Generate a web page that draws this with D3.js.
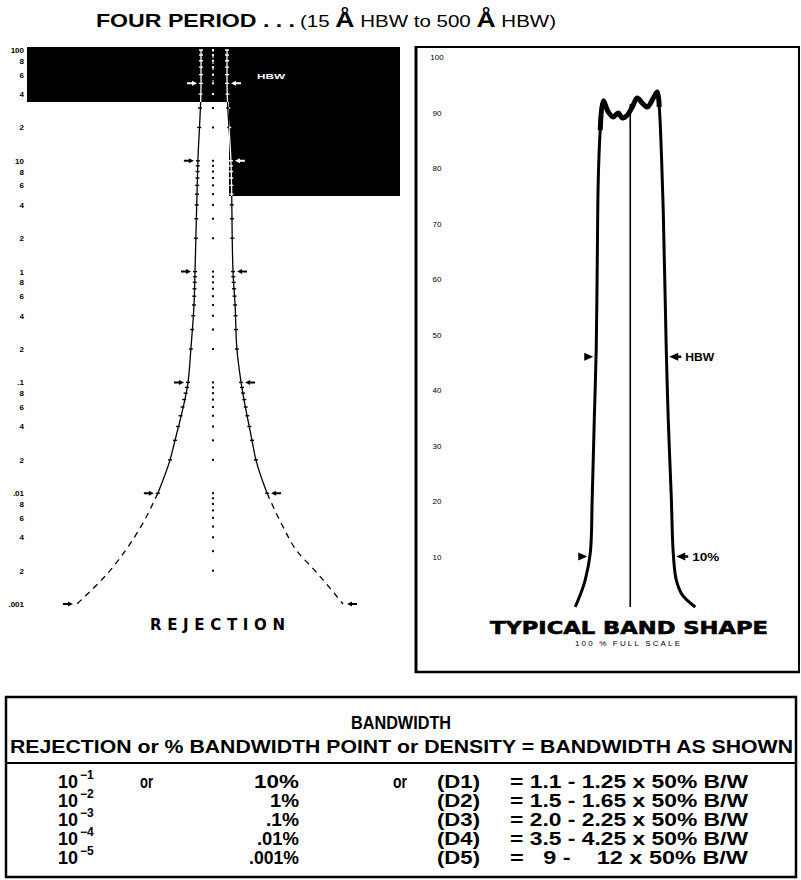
<!DOCTYPE html>
<html><head><meta charset="utf-8">
<script src="https://cdn.jsdelivr.net/npm/d3@7"></script>
<style>body{margin:0;background:#fff}svg{display:block}</style>
</head><body><svg id="c" width="801" height="880"></svg>
<script>
// ---------------- DATA ----------------
// Left panel: rejection (log, %) vs bandwidth in units of the 50% full bandwidth
const rejectionDecades = [100, 10, 1, 0.1, 0.01, 0.001];
const rejectionDecadeLabels = ["100", "10", "1", ".1", ".01", ".001"];
const minorLabelDigits = [8, 6, 4, 2];
const rejLevels = [100, 50, 10, 1, 0.5, 0.2, 0.1, 0.03, 0.02, 0.01, 0.005, 0.003, 0.002, 0.001];
const rejLeftEdge = [-0.46, -0.46, -0.58, -0.69, -0.73, -0.85, -0.96, -1.46, -1.65, -2.12, -2.77, -3.38, -3.96, -5.23];
const rejRightEdge = [0.54, 0.54, 0.69, 0.77, 0.85, 0.92, 1.08, 1.50, 1.65, 2.08, 2.69, 3.23, 3.92, 5.00];
const rejArrowLevels = [50, 10, 1, 0.1, 0.01, 0.001];

// Right panel: typical band shape, transmission % vs wavelength in HBW units
const bandTicks = [10, 20, 30, 40, 50, 60, 70, 80, 90, 100];
const bandTickLabels = ["10", "20", "30", "40", "50", "60", "70", "80", "90", "100"];
const bandX = [-0.786,-0.714,-0.643,-0.571,-0.543,-0.514,-0.486,-0.471,-0.457,-0.429,-0.386,-0.314,-0.243,-0.171,-0.114,-0.043,0.029,0.100,0.171,0.243,0.329,0.386,0.414,0.443,0.471,0.514,0.543,0.586,0.614,0.657,0.743,0.929];
const bandY = [0.9,3.1,5.8,10.6,20.7,34.6,47.4,63.4,77.8,86.8,92.1,90.1,89.2,89.9,89.0,89.5,91.0,92.6,91.7,91.0,92.6,93.7,91.0,83.2,72.4,47.4,34.6,20.7,10.6,5.8,3.1,0.9];
const bandCenterLine = [0.9, 91.5];
const bandArrowLevels = [46, 10];
const bandArrowLeft = [-0.486, -0.571];
const bandArrowRight = [0.514, 0.614];
const bandArrowLabels = ["HBW", "10%"];

// Table
const tableExponents = ["-1", "-2", "-3", "-4", "-5"];
const tablePercents = ["10%", "1%", ".1%", ".01%", ".001%"];
const tableDensities = ["(D1)", "(D2)", "(D3)", "(D4)", "(D5)"];
const tableRatios = ["1.1 - 1.25", "1.5 - 1.65", "2.0 - 2.25", "3.5 - 4.25", "  9 -    12"];
const tableOr1 = ["or", "", "", "", ""];
const tableOr2 = ["or", "", "", "", ""];

// ---------------- DRAW ----------------
const svg = d3.select("#c");
const SANS = "'Liberation Sans', Arial, Helvetica, sans-serif";
const WIDE = "'DejaVu Sans', Verdana, sans-serif";

// Title
svg.append("text").attr("x", 96).attr("y", 27).attr("font-family", SANS)
  .attr("font-weight", "bold").attr("font-size", 18)
  .attr("textLength", 199).attr("lengthAdjust", "spacingAndGlyphs")
  .text("FOUR PERIOD . . .");
const t2 = svg.append("text").attr("x", 300).attr("y", 27).attr("font-family", SANS)
  .attr("font-size", 17).attr("textLength", 256).attr("lengthAdjust", "spacingAndGlyphs");
t2.append("tspan").text("(15 ");
t2.append("tspan").attr("font-size", 22).attr("font-weight", "bold").text("Å");
t2.append("tspan").text(" HBW to 500 ");
t2.append("tspan").attr("font-size", 22).attr("font-weight", "bold").text("Å");
t2.append("tspan").text(" HBW)");

// ---------- Left panel: REJECTION ----------
const xL = d3.scaleLinear().domain([-7.15, 7.19]).range([27, 400]);
const yL = d3.scaleLog().domain([0.001, 100]).range([604, 50]);
const left = svg.append("g");

// dark scan regions
const dark = [[27, 47, 373, 55], [229, 47, 171, 149]];
left.selectAll("rect.dark").data(dark).join("rect").attr("class", "dark")
  .attr("x", d => d[0]).attr("y", d => d[1]).attr("width", d => d[2]).attr("height", d => d[3])
  .attr("fill", "#000");
const defs = svg.append("defs");
const cp = defs.append("clipPath").attr("id", "darkclip");
cp.selectAll("rect").data(dark).join("rect")
  .attr("x", d => d[0]).attr("y", d => d[1]).attr("width", d => d[2]).attr("height", d => d[3]);

// axis labels
const labG = left.append("g").attr("font-family", SANS).attr("font-weight", "bold")
  .attr("font-size", 8).attr("text-anchor", "end");
rejectionDecades.forEach((d, i) => {
  labG.append("text").attr("x", 24).attr("y", yL(d) + 3).text(rejectionDecadeLabels[i]);
  if (i < rejectionDecades.length - 1) {
    minorLabelDigits.forEach(m => {
      labG.append("text").attr("x", 24).attr("y", yL(d * m / 10) + 3).text(m);
    });
  }
});

// edge interpolation (log space) for tick marks along curves
const logLv = rejLevels.map(v => Math.log10(v));
function edgeAt(edge, v) {
  const lv = Math.log10(v);
  for (let i = 0; i < logLv.length - 1; i++) {
    if (lv <= logLv[i] && lv >= logLv[i + 1]) {
      const t = (logLv[i] - lv) / (logLv[i] - logLv[i + 1]);
      return edge[i] + t * (edge[i + 1] - edge[i]);
    }
  }
  return edge[edge.length - 1];
}
const allTicks = yL.ticks().filter(v => v >= 0.002 && v <= 100);

function drawRejection(g, color) {
  const line = d3.line().x(d => xL(d[0])).y(d => yL(d[1])).curve(d3.curveMonotoneY);
  [rejLeftEdge, rejRightEdge].forEach(edge => {
    const pts = rejLevels.map((v, i) => [edge[i], v]);
    const upper = pts.filter(p => p[1] >= 0.01);
    const lower = pts.filter(p => p[1] <= 0.01);
    g.append("path").attr("d", line(upper)).attr("fill", "none").attr("stroke", color).attr("stroke-width", 1.3);
    g.append("path").attr("d", line(lower)).attr("fill", "none").attr("stroke", color)
      .attr("stroke-width", 1.3).attr("stroke-dasharray", "6,5");
    g.selectAll(null).data(allTicks.filter(v => v >= 0.01)).join("line")
      .attr("x1", v => xL(edgeAt(edge, v)) - 2).attr("x2", v => xL(edgeAt(edge, v)) + 2)
      .attr("y1", v => yL(v)).attr("y2", v => yL(v)).attr("stroke", color).attr("stroke-width", 1.4);
  });
  // center dotted reference
  g.selectAll(null).data(allTicks).join("rect")
    .attr("x", xL(0) - 1).attr("y", v => yL(v) - 1).attr("width", 2).attr("height", 2).attr("fill", color);
  g.append("line").attr("x1", xL(0)).attr("x2", xL(0)).attr("y1", yL(100)).attr("y2", yL(50))
    .attr("stroke", color).attr("stroke-width", 1).attr("stroke-dasharray", "2,4");
  // arrows
  rejArrowLevels.forEach(v => {
    const y = yL(v);
    const lx = xL(edgeAt(rejLeftEdge, v)) - 4;
    const rx = xL(edgeAt(rejRightEdge, v)) + 4;
    g.append("path").attr("d", `M${lx},${y} L${lx - 5},${y - 2.5} L${lx - 5},${y + 2.5} Z M${lx - 5},${y - 1} L${lx - 10},${y - 1} L${lx - 10},${y + 1} L${lx - 5},${y + 1} Z`).attr("fill", color);
    g.append("path").attr("d", `M${rx},${y} L${rx + 5},${y - 2.5} L${rx + 5},${y + 2.5} Z M${rx + 5},${y - 1} L${rx + 10},${y - 1} L${rx + 10},${y + 1} L${rx + 5},${y + 1} Z`).attr("fill", color);
  });
}
drawRejection(left.append("g"), "#000");
drawRejection(left.append("g").attr("clip-path", "url(#darkclip)"), "#fff");
left.append("text").attr("x", 257).attr("y", 79).attr("fill", "#fff").attr("font-family", SANS)
  .attr("font-size", 8).attr("font-weight", "bold").attr("textLength", 28)
  .attr("lengthAdjust", "spacingAndGlyphs").text("HBW");

left.append("text").attr("x", 150).attr("y", 630).attr("font-family", WIDE).attr("font-weight", "bold")
  .attr("font-size", 15).attr("textLength", 135).attr("lengthAdjust", "spacing").text("REJECTION");

// ---------- Right panel: TYPICAL BAND SHAPE ----------
const xR = d3.scaleLinear().domain([-3.06, 2.41]).range([416, 799]);
const yR = d3.scaleLinear().domain([0, 100]).range([612, 57]);
const right = svg.append("g");
right.append("line").attr("x1", 415).attr("x2", 800).attr("y1", 47).attr("y2", 47).attr("stroke", "#000").attr("stroke-width", 2);
right.append("line").attr("x1", 416).attr("x2", 416).attr("y1", 46).attr("y2", 673).attr("stroke", "#000").attr("stroke-width", 3);
right.append("line").attr("x1", 415).attr("x2", 800).attr("y1", 672).attr("y2", 672).attr("stroke", "#000").attr("stroke-width", 2.5);
right.append("line").attr("x1", 799).attr("x2", 799).attr("y1", 46).attr("y2", 673).attr("stroke", "#000").attr("stroke-width", 2);

right.append("g").attr("font-family", SANS).attr("font-size", 8).attr("text-anchor", "middle")
  .selectAll("text").data(bandTicks).join("text")
  .attr("x", 437).attr("y", d => yR(d) + 3).text((d, i) => bandTickLabels[i]);

const bandPts = bandX.map((x, i) => [x, bandY[i]]);
const bandLine = d3.line().x(d => xR(d[0])).y(d => yR(d[1])).curve(d3.curveCatmullRom.alpha(0.5));
right.append("path").attr("d", bandLine(bandPts)).attr("fill", "none").attr("stroke", "#000")
  .attr("stroke-width", 3).attr("stroke-linejoin", "round");
right.append("path").attr("d", bandLine(bandPts.filter(p => p[1] > 86))).attr("fill", "none").attr("stroke", "#000")
  .attr("stroke-width", 5).attr("stroke-linejoin", "round");
right.append("line").attr("x1", xR(0)).attr("x2", xR(0)).attr("y1", yR(bandCenterLine[0])).attr("y2", yR(bandCenterLine[1]))
  .attr("stroke", "#000").attr("stroke-width", 1.6);

bandArrowLevels.forEach((v, i) => {
  const y = yR(v);
  const lx = xR(bandArrowLeft[i]) - 3;
  const rx = xR(bandArrowRight[i]) + 3;
  right.append("path").attr("d", `M${lx},${y} L${lx - 9},${y - 4} L${lx - 9},${y + 4} Z`).attr("fill", "#000");
  right.append("path").attr("d", `M${rx},${y} L${rx + 9},${y - 4} L${rx + 9},${y + 4} Z M${rx + 8},${y - 1.3} L${rx + 12},${y - 1.3} L${rx + 12},${y + 1.3} L${rx + 8},${y + 1.3} Z`).attr("fill", "#000");
  right.append("text").attr("x", rx + 16).attr("y", y + 4).attr("font-family", SANS).attr("font-weight", "bold")
    .attr("font-size", 10).attr("textLength", i === 0 ? 29 : 27).attr("lengthAdjust", "spacingAndGlyphs")
    .text(bandArrowLabels[i]);
});

right.append("text").attr("x", 490).attr("y", 634).attr("font-family", WIDE).attr("font-weight", "bold")
  .attr("font-size", 17).attr("stroke", "#000").attr("stroke-width", 0.6)
  .attr("textLength", 278).attr("lengthAdjust", "spacingAndGlyphs").text("TYPICAL BAND SHAPE");
right.append("text").attr("x", 575).attr("y", 646).attr("font-family", SANS)
  .attr("font-size", 8).attr("textLength", 105).attr("lengthAdjust", "spacing").text("100 % FULL SCALE");

// ---------- Table ----------
const tbl = svg.append("g").attr("font-family", SANS).attr("fill", "#000").attr("font-weight", "bold");
tbl.append("rect").attr("x", 6).attr("y", 697).attr("width", 790).attr("height", 180)
  .attr("fill", "none").attr("stroke", "#000").attr("stroke-width", 2.5);
tbl.append("line").attr("x1", 6).attr("x2", 796).attr("y1", 763).attr("y2", 763).attr("stroke", "#000").attr("stroke-width", 2);
tbl.append("text").attr("x", 401).attr("y", 729).attr("font-size", 18).attr("text-anchor", "middle")
  .attr("textLength", 100).attr("lengthAdjust", "spacingAndGlyphs").text("BANDWIDTH");
tbl.append("text").attr("x", 10).attr("y", 753).attr("font-size", 18)
  .attr("textLength", 783).attr("lengthAdjust", "spacingAndGlyphs")
  .text("REJECTION or % BANDWIDTH POINT or DENSITY = BANDWIDTH AS SHOWN");

const pctWidths = [45, 29, 33, 42, 50];
tableExponents.forEach((e, i) => {
  const by = 788 + i * 19;
  const g = tbl.append("g").attr("font-size", 18);
  g.append("text").attr("x", 58).attr("y", by).attr("textLength", 20).attr("lengthAdjust", "spacingAndGlyphs").text("10");
  g.append("text").attr("x", 80).attr("y", by - 9).attr("font-size", 12).text(e.replace("-", "−"));
  if (tableOr1[i]) g.append("text").attr("x", 140).attr("y", by).attr("textLength", 13).attr("lengthAdjust", "spacingAndGlyphs").text(tableOr1[i]);
  g.append("text").attr("x", 299 - pctWidths[i]).attr("y", by)
    .attr("textLength", pctWidths[i]).attr("lengthAdjust", "spacingAndGlyphs").text(tablePercents[i]);
  if (tableOr2[i]) g.append("text").attr("x", 393).attr("y", by).attr("textLength", 14).attr("lengthAdjust", "spacingAndGlyphs").text(tableOr2[i]);
  g.append("text").attr("x", 437).attr("y", by).attr("textLength", 43).attr("lengthAdjust", "spacingAndGlyphs").text(tableDensities[i]);
  g.append("text").attr("x", 510).attr("y", by).attr("textLength", 238).attr("lengthAdjust", "spacingAndGlyphs")
    .style("white-space", "pre").text("= " + tableRatios[i] + " x 50% B/W");
});
</script></body></html>
